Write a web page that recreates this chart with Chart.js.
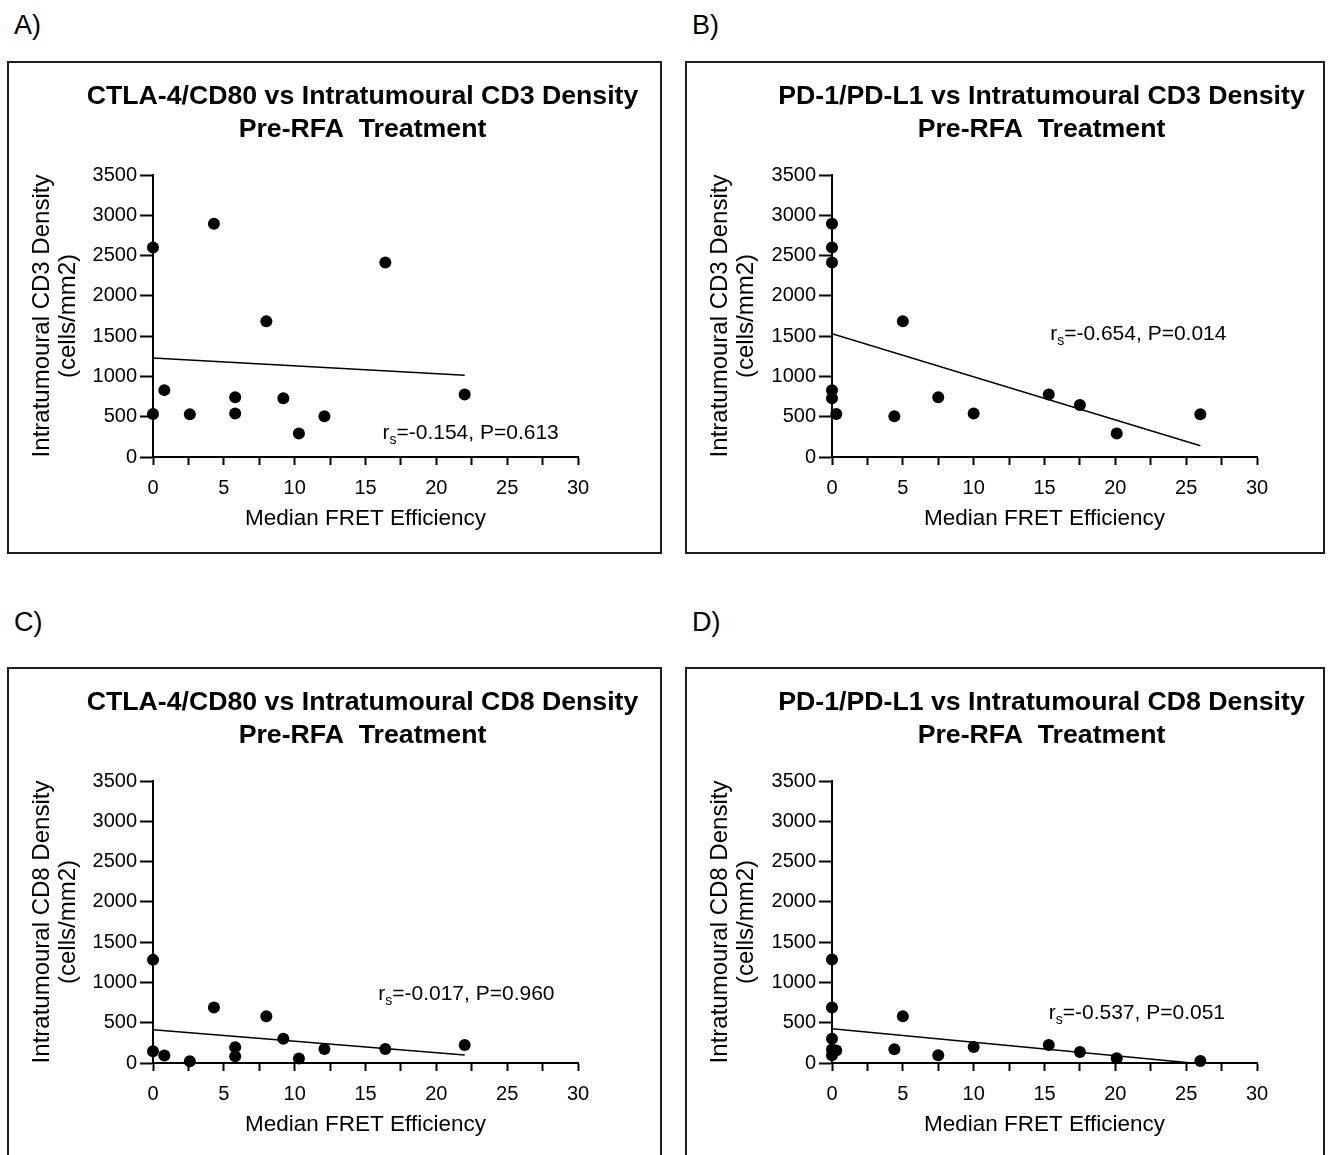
<!DOCTYPE html>
<html>
<head>
<meta charset="utf-8">
<script src="https://cdn.jsdelivr.net/npm/chart.js@4.4.1/dist/chart.umd.min.js"></script>
<style>
  html, body { margin: 0; padding: 0; background: #fff; width: 1328px; height: 1155px; overflow: hidden; }
  .panel { position: absolute; }
  .frame { position: absolute; border: 2px solid #1e1e1e; box-sizing: border-box; pointer-events: none; }
  .tag { position: absolute; font: 27px "Liberation Sans", Arial, sans-serif; line-height: 27px; color: #000; }
</style>
</head>
<body>
<script>
// Median FRET efficiency per patient (x values)
const fretCTLA4 = [0, 0, 0.8, 2.6, 4.3, 5.8, 5.8, 8.0, 9.2, 10.3, 12.1, 16.4, 22.0];
const fretPD1   = [0, 0, 0, 0, 0, 0.3, 4.4, 5.0, 7.5, 10.0, 15.3, 17.5, 20.1, 26.0];

// Intratumoural densities (cells/mm2) paired with the FRET values above
const cd3CTLA4 = [2600, 535, 830, 530, 2895, 742, 540, 1685, 730, 293, 505, 2415, 775];
const cd3PD1   = [2895, 2600, 2415, 830, 730, 535, 505, 1685, 742, 540, 775, 645, 293, 530];
const cd8CTLA4 = [1280, 146, 93, 22, 688, 197, 85, 580, 301, 56, 175, 174, 223];
const cd8PD1   = [1285, 688, 300, 167, 96, 154, 171, 579, 96, 198, 223, 136, 58, 25];

// Linear trend lines (end points)
const trendXCTLA4    = [0, 22.0];
const trendCD3CTLA4  = [1230, 1015];
const trendCD8CTLA4  = [412, 98];
const trendXPD1CD3   = [0, 26.0];
const trendCD3PD1    = [1530, 140];
const trendXPD1CD8   = [0, 25.4];
const trendCD8PD1    = [425, 0];

// Spearman statistics
const spearmanR = ['-0.154', '-0.654', '-0.017', '-0.537'];
const spearmanP = ['0.613', '0.014', '0.960', '0.051'];

// Axis ticks
const xTickValues = [0, 5, 10, 15, 20, 25, 30];
const yTickValues = [0, 500, 1000, 1500, 2000, 2500, 3000, 3500];

const panelLetters = ['A)', 'B)', 'C)', 'D)'];
const panelTitles = [
  ['CTLA-4/CD80 vs Intratumoural CD3 Density', 'Pre-RFA  Treatment'],
  ['PD-1/PD-L1 vs Intratumoural CD3 Density', 'Pre-RFA  Treatment'],
  ['CTLA-4/CD80 vs Intratumoural CD8 Density', 'Pre-RFA  Treatment'],
  ['PD-1/PD-L1 vs Intratumoural CD8 Density', 'Pre-RFA  Treatment']
];
const yTitles = [
  ['Intratumoural CD3 Density', '(cells/mm2)'],
  ['Intratumoural CD3 Density', '(cells/mm2)'],
  ['Intratumoural CD8 Density', '(cells/mm2)'],
  ['Intratumoural CD8 Density', '(cells/mm2)']
];
const xTitle = 'Median FRET Efficiency';

const FONT = '"Liberation Sans", Arial, Helvetica, sans-serif';

// Panel geometry (page pixels) and stat-label anchors (data units)
const panels = [
  { left: 7,   top: 61,  w: 655, h: 492, axisLeft: 146, letterX: 14,  letterY: 12,
    xs: fretCTLA4, ys: cd3CTLA4, tx: trendXCTLA4, ty: trendCD3CTLA4, note: [16.2, 295] },
  { left: 685, top: 61,  w: 640, h: 492, axisLeft: 147, letterX: 692, letterY: 12,
    xs: fretPD1, ys: cd3PD1, tx: trendXPD1CD3, ty: trendCD3PD1, note: [15.4, 1526] },
  { left: 7,   top: 667, w: 655, h: 492, axisLeft: 146, letterX: 14,  letterY: 609,
    xs: fretCTLA4, ys: cd8CTLA4, tx: trendXCTLA4, ty: trendCD8CTLA4, note: [15.9, 858] },
  { left: 685, top: 667, w: 640, h: 492, axisLeft: 147, letterX: 692, letterY: 609,
    xs: fretPD1, ys: cd8PD1, tx: trendXPD1CD8, ty: trendCD8PD1, note: [15.3, 623] }
];

const PLOT_W = 425, PLOT_TOP = 114, PLOT_BOTTOM = 396, XAXIS_H = 90;

function makePanel(p, i) {
  const tag = document.createElement('div');
  tag.className = 'tag';
  tag.style.left = p.letterX + 'px';
  tag.style.top = p.letterY + 'px';
  tag.textContent = panelLetters[i];
  document.body.appendChild(tag);

  const holder = document.createElement('div');
  holder.className = 'panel';
  holder.style.left = p.left + 'px';
  holder.style.top = p.top + 'px';
  const canvas = document.createElement('canvas');
  canvas.width = p.w;
  canvas.height = p.h;
  canvas.style.width = p.w + 'px';
  canvas.style.height = p.h + 'px';
  holder.appendChild(canvas);
  document.body.appendChild(holder);

  const frame = document.createElement('div');
  frame.className = 'frame';
  frame.style.left = p.left + 'px';
  frame.style.top = p.top + 'px';
  frame.style.width = p.w + 'px';
  frame.style.height = (p.h + 1) + 'px';
  document.body.appendChild(frame);

  // Two-line bold heading centred over the plot area
  const headingPlugin = {
    id: 'heading' + i,
    afterDraw(chart) {
      const { ctx, chartArea } = chart;
      ctx.save();
      ctx.font = 'bold 26.7px ' + FONT;
      ctx.fillStyle = '#000';
      ctx.textAlign = 'center';
      ctx.textBaseline = 'middle';
      const cx = (chartArea.left + chartArea.right) / 2 - 3;
      ctx.fillText(panelTitles[i][0], cx, chartArea.top - 78);
      ctx.fillText(panelTitles[i][1], cx, chartArea.top - 45);
      ctx.restore();
    }
  };

  // Spearman label with subscript s
  const statPlugin = {
    id: 'stat' + i,
    afterDraw(chart) {
      const { ctx } = chart;
      const x = chart.scales.x.getPixelForValue(p.note[0]);
      const y = chart.scales.y.getPixelForValue(p.note[1]);
      ctx.save();
      ctx.fillStyle = '#000';
      ctx.textAlign = 'left';
      ctx.textBaseline = 'middle';
      ctx.font = '21px ' + FONT;
      ctx.fillText('r', x, y);
      let dx = ctx.measureText('r').width;
      ctx.font = '14px ' + FONT;
      ctx.fillText('s', x + dx, y + 7);
      dx += ctx.measureText('s').width;
      ctx.font = '21px ' + FONT;
      ctx.fillText('=' + spearmanR[i] + ', P=' + spearmanP[i], x + dx, y);
      ctx.restore();
    }
  };

  new Chart(canvas, {
    type: 'scatter',
    data: {
      datasets: [
        {
          type: 'scatter',
          data: p.xs.map((x, k) => ({ x: x, y: p.ys[k] })),
          pointRadius: 6,
          pointHoverRadius: 6,
          pointBackgroundColor: '#000',
          pointBorderColor: '#000',
          pointBorderWidth: 0,
          clip: false,
          order: 1
        },
        {
          type: 'line',
          data: p.tx.map((x, k) => ({ x: x, y: p.ty[k] })),
          borderColor: '#000',
          borderWidth: 1.5,
          pointRadius: 0,
          fill: false,
          tension: 0,
          showLine: true,
          order: 2
        }
      ]
    },
    options: {
      responsive: false,
      animation: false,
      devicePixelRatio: 1,
      events: [],
      layout: {
        padding: {
          left: 0,
          top: PLOT_TOP,
          right: p.w - p.axisLeft - PLOT_W,
          bottom: p.h - PLOT_BOTTOM - XAXIS_H
        }
      },
      plugins: {
        legend: { display: false },
        tooltip: { enabled: false },
        title: { display: false }
      },
      scales: {
        x: {
          type: 'linear',
          position: 'bottom',
          min: xTickValues[0],
          max: xTickValues[xTickValues.length - 1],
          afterBuildTicks(scale) {
            const t = [];
            for (let k = 0; k < xTickValues.length; k++) {
              t.push({ value: xTickValues[k] });
              if (k < xTickValues.length - 1) t.push({ value: (xTickValues[k] + xTickValues[k + 1]) / 2, minor: true });
            }
            scale.ticks = t;
          },
          ticks: {
            autoSkip: false,
            maxRotation: 0,
            padding: 11,
            color: '#000',
            font: { family: FONT, size: 20 },
            callback: (v) => (xTickValues.includes(v) ? String(v) : '')
          },
          grid: { drawOnChartArea: false, drawTicks: true, tickLength: 8, tickWidth: 2, tickColor: '#000' },
          border: { color: '#000', width: 2 },
          title: {
            display: true,
            text: xTitle,
            color: '#000',
            font: { family: FONT, size: 22.5, lineHeight: 1.2 },
            padding: { top: 0, bottom: 15 }
          },
          afterFit(scale) {
            scale.height = XAXIS_H;
            scale.paddingLeft = 0;
            scale.paddingRight = 0;
          }
        },
        y: {
          type: 'linear',
          position: 'left',
          min: yTickValues[0],
          max: yTickValues[yTickValues.length - 1],
          afterBuildTicks(scale) {
            scale.ticks = yTickValues.map(v => ({ value: v }));
          },
          ticks: {
            autoSkip: false,
            padding: 3,
            color: '#000',
            font: { family: FONT, size: 20 },
            callback: (v) => String(v)
          },
          grid: { drawOnChartArea: false, drawTicks: true, tickLength: 13, tickWidth: 2, tickColor: '#000' },
          border: { color: '#000', width: 2 },
          title: {
            display: true,
            text: yTitles[i],
            color: '#000',
            font: { family: FONT, size: 24, lineHeight: 1.12 },
            padding: { top: 21.5, bottom: 0 }
          },
          afterFit(scale) {
            scale.width = p.axisLeft;
            scale.paddingTop = 0;
            scale.paddingBottom = 0;
          }
        }
      }
    },
    plugins: [headingPlugin, statPlugin]
  });
}

panels.forEach(makePanel);
</script>
</body>
</html>
